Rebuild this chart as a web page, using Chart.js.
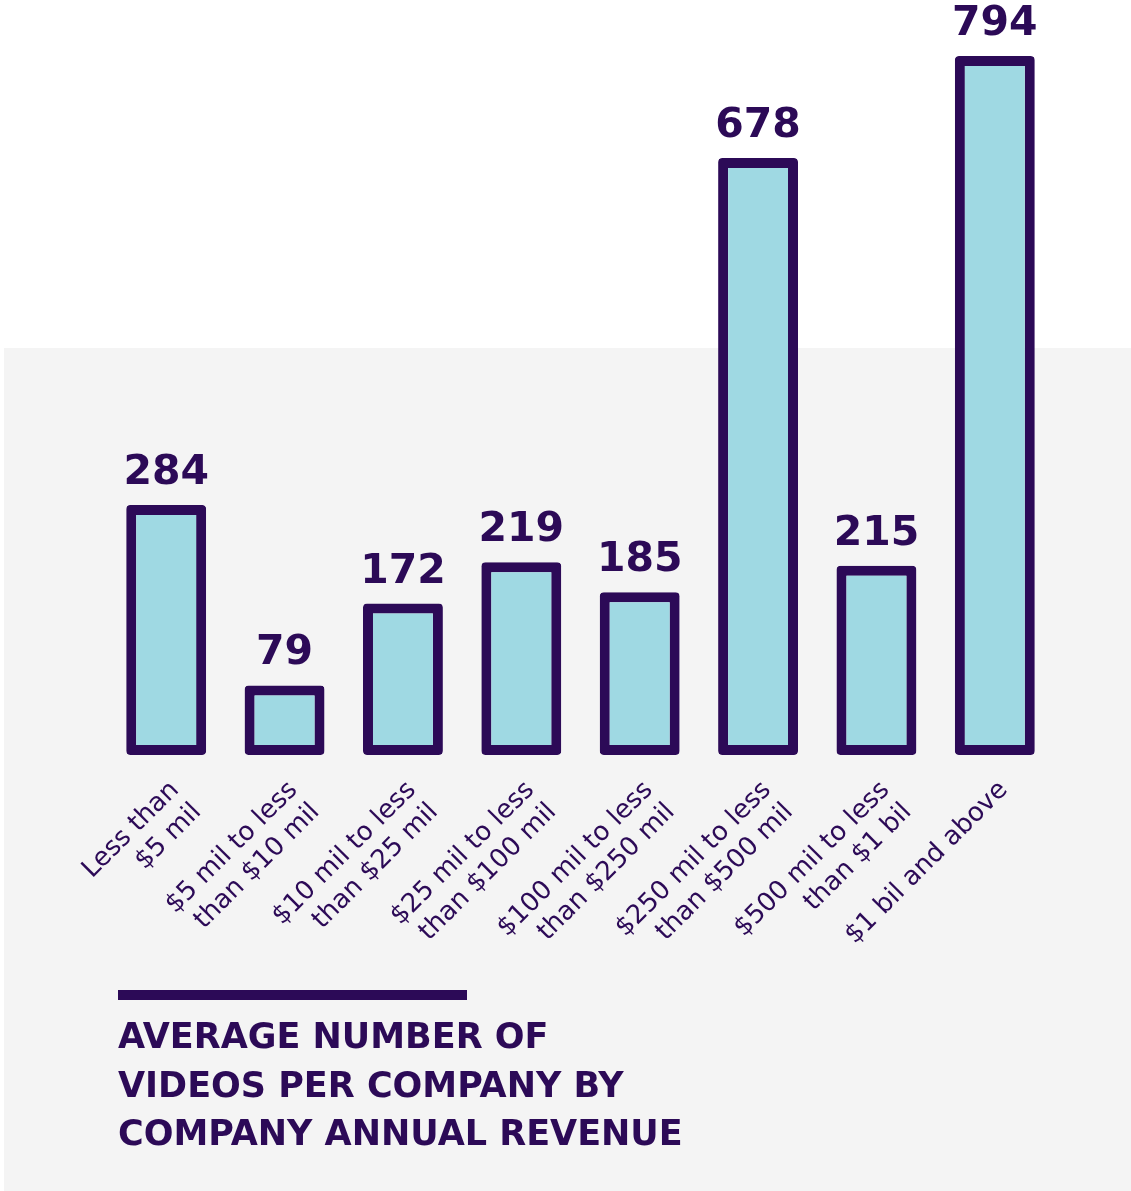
<!DOCTYPE html>
<html>
<head>
<meta charset="utf-8">
<script src="https://cdn.jsdelivr.net/npm/chart.js@4.4.1/dist/chart.umd.min.js"></script>
<style>
  html, body { margin: 0; padding: 0; background: #ffffff; }
  #wrap { width: 1131px; height: 1191px; position: relative; }
</style>
</head>
<body>
<div id="wrap"><canvas id="c" width="1131" height="1191"></canvas></div>
<script>
const categories = [
  ["Less than", "$5 mil"],
  ["$5 mil to less", "than $10 mil"],
  ["$10 mil to less", "than $25 mil"],
  ["$25 mil to less", "than $100 mil"],
  ["$100 mil to less", "than $250 mil"],
  ["$250 mil to less", "than $500 mil"],
  ["$500 mil to less", "than $1 bil"],
  ["$1 bil and above"]
];
const videoCounts = [284, 79, 172, 219, 185, 678, 215, 794];
const titleLines = ["AVERAGE NUMBER OF", "VIDEOS PER COMPANY BY", "COMPANY ANNUAL REVENUE"];

const PURPLE = '#2c0a57';
const CYAN = '#9fd9e3';
const GRAY = '#f4f4f4';

const backgroundPlugin = {
  id: 'bg',
  beforeDraw(chart) {
    const ctx = chart.ctx;
    ctx.save();
    ctx.fillStyle = '#ffffff';
    ctx.fillRect(0, 0, chart.width, chart.height);
    ctx.fillStyle = GRAY;
    ctx.fillRect(4, 348, chart.width - 4, chart.height - 348);
    ctx.restore();
  }
};

const valueLabelPlugin = {
  id: 'valueLabels',
  afterDatasetsDraw(chart) {
    const ctx = chart.ctx;
    const meta = chart.getDatasetMeta(0);
    ctx.save();
    ctx.fillStyle = PURPLE;
    ctx.font = 'bold 41px "DejaVu Sans"';
    ctx.textAlign = 'center';
    ctx.textBaseline = 'alphabetic';
    meta.data.forEach((bar, i) => {
      ctx.fillText(String(videoCounts[i]), bar.x, bar.y - 21);
    });
    ctx.restore();
  }
};

const titlePlugin = {
  id: 'titleBlock',
  afterDraw(chart) {
    const ctx = chart.ctx;
    ctx.save();
    ctx.fillStyle = PURPLE;
    ctx.fillRect(118, 990, 349, 10);
    ctx.font = 'bold 35px "DejaVu Sans"';
    ctx.textAlign = 'left';
    ctx.textBaseline = 'alphabetic';
    const baselines = [1048, 1097, 1145];
    titleLines.forEach((t, i) => ctx.fillText(t, 118, baselines[i]));
    ctx.restore();
  }
};

new Chart(document.getElementById('c'), {
  type: 'bar',
  data: {
    labels: categories,
    datasets: [{
      data: videoCounts,
      backgroundColor: CYAN,
      borderColor: PURPLE,
      borderWidth: 10,
      borderSkipped: false,
      borderRadius: 4,
      barPercentage: 1,
      categoryPercentage: 0.675
    }]
  },
  options: {
    responsive: false,
    animation: false,
    devicePixelRatio: 1,
    layout: { padding: { top: 56, left: 107, right: 77, bottom: 0 } },
    plugins: { legend: { display: false }, tooltip: { enabled: false } },
    scales: {
      y: { display: false, min: 0, max: 794 },
      x: {
        grid: { display: false, drawTicks: false },
        border: { display: false },
        ticks: {
          autoSkip: false,
          maxRotation: 45,
          minRotation: 45,
          padding: 20,
          labelOffset: 9,
          color: PURPLE,
          font: { family: '"DejaVu Sans"', size: 26, weight: 'normal', lineHeight: 1.2 }
        },
        afterFit(scale) { scale.height = 436; }
      }
    }
  },
  plugins: [backgroundPlugin, valueLabelPlugin, titlePlugin]
});
</script>
</body>
</html>
